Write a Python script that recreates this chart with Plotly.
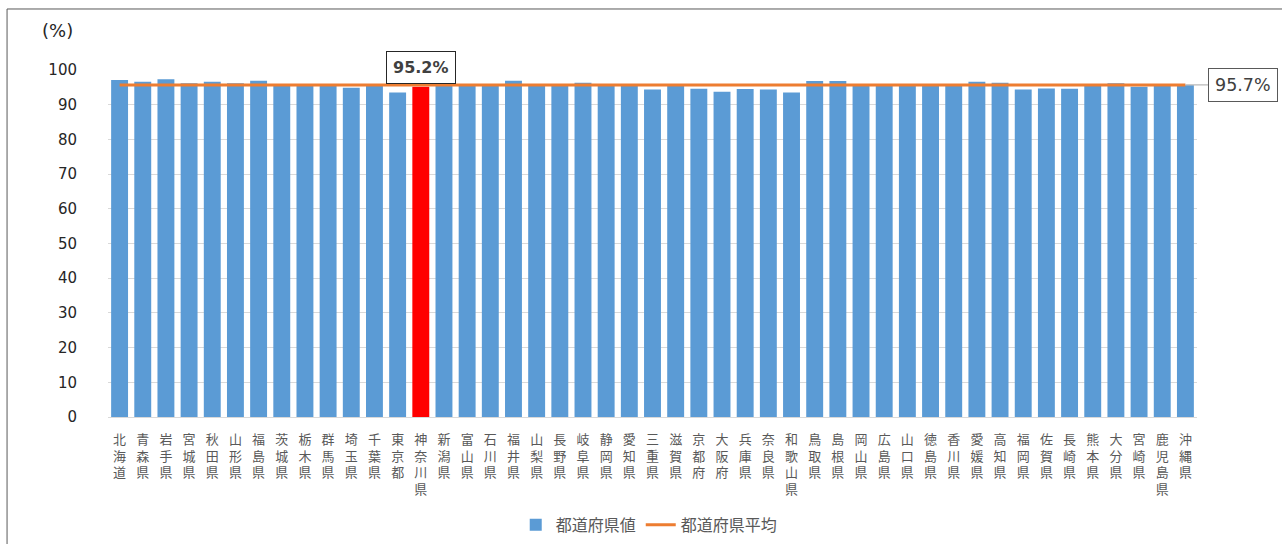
import plotly.graph_objects as go

# prefecture names (x categories)
prefs = [
    "北海道", "青森県", "岩手県", "宮城県", "秋田県", "山形県", "福島県", "茨城県",
    "栃木県", "群馬県", "埼玉県", "千葉県", "東京都", "神奈川県", "新潟県", "富山県",
    "石川県", "福井県", "山梨県", "長野県", "岐阜県", "静岡県", "愛知県", "三重県",
    "滋賀県", "京都府", "大阪府", "兵庫県", "奈良県", "和歌山県", "鳥取県", "島根県",
    "岡山県", "広島県", "山口県", "徳島県", "香川県", "愛媛県", "高知県", "福岡県",
    "佐賀県", "長崎県", "熊本県", "大分県", "宮崎県", "鹿児島県", "沖縄県",
]

# values per prefecture (%)
values = [
    97.1, 96.6, 97.3, 96.2, 96.6, 96.2, 96.9, 95.6,
    95.6, 95.7, 94.9, 95.6, 93.5, 95.2, 95.5, 95.5,
    95.5, 96.9, 95.6, 95.5, 96.3, 95.6, 95.5, 94.4,
    95.6, 94.6, 93.7, 94.5, 94.4, 93.5, 96.8, 96.8,
    95.6, 95.5, 95.5, 95.5, 95.6, 96.6, 96.3, 94.4,
    94.7, 94.6, 95.6, 96.2, 95.2, 95.5, 95.6,
]

# national average line
avg_value = 95.7
avg_line = [avg_value] * len(prefs)

highlight = "神奈川県"
y_ticks = [0, 10, 20, 30, 40, 50, 60, 70, 80, 90, 100]

BLUE = "#5B9BD5"
RED = "#FF0000"
ORANGE = "#ED7D31"
GRID = "#D9D9D9"
TXT = "#595959"
JP = "Noto Sans CJK JP"
NUM = "DejaVu Sans"

n = len(prefs)
bar_colors = [RED if p == highlight else BLUE for p in prefs]
tick_text = ["<br>".join(p) for p in prefs]

fig = go.Figure()
fig.add_trace(go.Bar(
    x=prefs, y=values, name="都道府県値",
    marker=dict(color=bar_colors, line=dict(width=0)),
))
fig.add_trace(go.Scatter(
    x=prefs, y=avg_line, name="都道府県平均", mode="lines",
    line=dict(color=ORANGE, width=3),
))

# label over the highlighted bar (paper coords so it is not hidden above the range)
hi_idx = prefs.index(highlight)
fig.add_annotation(
    x=(hi_idx + 0.5) / n, y=1.0086, xref="paper", yref="paper",
    text="<b>95.2%</b>",
    showarrow=False, font=dict(family=NUM, size=16, color="#404040"),
    bgcolor="white", bordercolor="#262626", borderwidth=1, borderpad=6,
    xanchor="center", yanchor="middle",
)

# average label with leader line
fig.add_shape(type="line", xref="paper", yref="paper",
              x0=(n - 0.5) / n, x1=1.0101, y0=avg_value / 100, y1=avg_value / 100,
              line=dict(color="#A6A6A6", width=1))
fig.add_annotation(
    x=1.0101, y=avg_value, xref="paper", yref="y", text="95.7%",
    showarrow=False, font=dict(family=NUM, size=17.5, color="#404040"),
    bgcolor="white", bordercolor="#595959", borderwidth=1, borderpad=6,
    xanchor="left", yanchor="middle",
)

fig.add_annotation(
    x=-0.046, y=1.115, xref="paper", yref="paper", text="(%)",
    showarrow=False, font=dict(family=NUM, size=18, color="#262626"),
    xanchor="center", yanchor="middle",
)

# chart frame
fig.add_shape(type="rect", xref="paper", yref="paper",
              x0=-0.0927, x1=1.3, y0=-0.6, y1=1.1758,
              line=dict(color="#595959", width=1), layer="below")

fig.update_layout(
    width=1282, height=544,
    margin=dict(l=108, r=85, t=70, b=127, autoexpand=False),
    paper_bgcolor="white", plot_bgcolor="white",
    bargap=0.27, showlegend=True,
    legend=dict(orientation="h", x=0.497, y=-0.311, xanchor="center", yanchor="middle",
                font=dict(family=JP, size=16, color=TXT), itemwidth=30),
    font=dict(family=JP, color=TXT),
)
fig.update_xaxes(
    tickmode="array", tickvals=prefs, ticktext=tick_text, tickangle=0,
    range=[-0.5, n - 0.5],
    tickfont=dict(family=JP, size=13, color=TXT),
    showline=True, linecolor=GRID, linewidth=1, ticks="", showgrid=False,
    ticklabelstandoff=10, automargin=False,
)
fig.update_yaxes(
    range=[0, 100], tickvals=y_ticks, showgrid=True, gridcolor=GRID, gridwidth=1,
    zeroline=False, tickfont=dict(family=NUM, size=15, color="#262626"),
    ticklabelstandoff=30, ticks="", automargin=False,
)

# drop the default page margin so the figure sits at the top-left corner
fig.write_html("out.html", config={"displayModeBar": False},
               post_script="document.body.style.margin='0';")
